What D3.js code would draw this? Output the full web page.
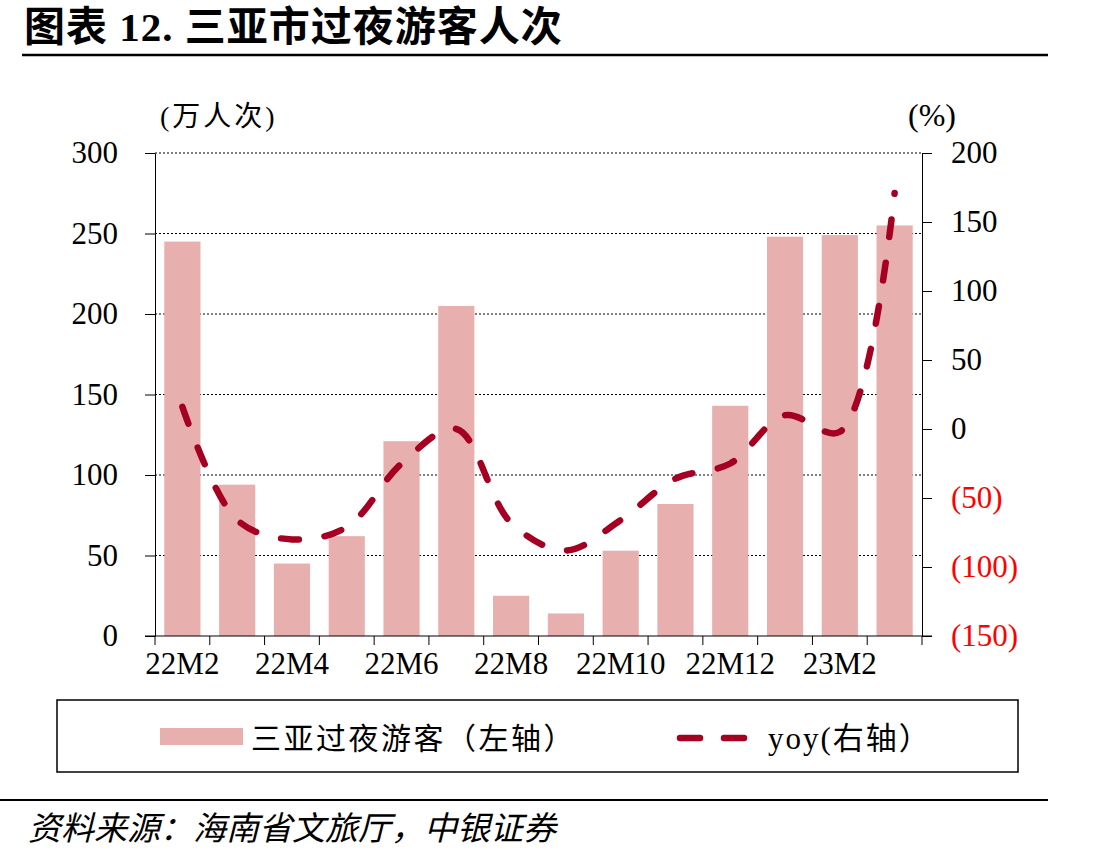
<!DOCTYPE html>
<html>
<head>
<meta charset="utf-8">
<script src="https://cdn.jsdelivr.net/npm/d3@7"></script>
<style>
  body { margin: 0; background: #fff; }
  svg text { font-family: "Liberation Serif", "Noto Sans CJK SC", serif; }
</style>
</head>
<body>
<div id="chart"></div>
<script>
// data
var months = ["22M2","22M3","22M4","22M5","22M6","22M7","22M8","22M9","22M10","22M11","22M12","23M1","23M2","23M3"];
var visitors = [245, 94, 45, 62, 121, 205, 25, 14, 53, 82, 143, 248, 249, 255];   // 万人次
var yoy = [16, -66, -80, -71, -25, 0, -68, -88, -66, -36, -25, 10, -2, 171];     // %
var leftTicks = [0, 50, 100, 150, 200, 250, 300];
var rightTicks = [-150, -100, -50, 0, 50, 100, 150, 200];
var xLabels = ["22M2","22M4","22M6","22M8","22M10","22M12","23M2"];

var W = 1101, H = 859;
var barColor = "#E8AFAF", lineColor = "#A50021";

var svg = d3.select("#chart").append("svg")
	.attr("width", W).attr("height", H);

// title
svg.append("text")
	.attr("x", 24).attr("y", 41)
	.attr("font-size", "41px")
	.attr("font-weight", "bold")
	.attr("letter-spacing", "1px")
	.text("图表 12. 三亚市过夜游客人次");
svg.append("line")
	.attr("x1", 22).attr("x2", 1048).attr("y1", 55).attr("y2", 55)
	.attr("stroke", "#000").attr("stroke-width", 2.5);

var pLeft = 155, pRight = 922, pTop = 153, pBottom = 636;

var x = d3.scaleBand().domain(months).range([pLeft, pRight]).paddingInner(0.34).paddingOuter(0.17);
var yL = d3.scaleLinear().domain([0, 300]).range([pBottom, pTop]);
var yR = d3.scaleLinear().domain([-150, 200]).range([pBottom, pTop]);

// gridlines
svg.append("g").selectAll("line")
	.data(leftTicks.filter(function(d) { return d > 0; }))
	.enter().append("line")
	.attr("x1", pLeft).attr("x2", pRight)
	.attr("y1", function(d) { return yL(d); }).attr("y2", function(d) { return yL(d); })
	.attr("stroke", "#000").attr("stroke-width", 1)
	.attr("stroke-dasharray", "2,2");

// bars
svg.append("g").selectAll("rect")
	.data(visitors)
	.enter().append("rect")
	.attr("x", function(d, i) { return x(months[i]); })
	.attr("y", function(d) { return yL(d); })
	.attr("width", x.bandwidth())
	.attr("height", function(d) { return yL(0) - yL(d); })
	.attr("fill", barColor);

// left axis
var gL = svg.append("g")
	.attr("transform", "translate(" + pLeft + ",0)")
	.call(d3.axisLeft(yL).tickValues(leftTicks).tickSize(10).tickPadding(27).tickSizeOuter(0));
gL.select(".domain").attr("stroke", "#000");
gL.selectAll("text").attr("font-size", "31px").attr("fill", "#000")
	.style("font-family", "Liberation Serif");

// right axis
var gR = svg.append("g")
	.attr("transform", "translate(" + pRight + ",0)")
	.call(d3.axisRight(yR).tickValues(rightTicks).tickSize(10).tickPadding(19).tickSizeOuter(0)
		.tickFormat(function(d) { return d < 0 ? "(" + Math.abs(d) + ")" : d; }));
gR.select(".domain").attr("stroke", "#000");
gR.selectAll("text").attr("font-size", "31px")
	.style("font-family", "Liberation Serif")
	.attr("fill", function(d) { return d < 0 ? "#FF0000" : "#000"; });

// x axis
var half = x.step() * x.paddingInner() / 2;
var gX = svg.append("g")
	.attr("transform", "translate(0," + pBottom + ")")
	.call(d3.axisBottom(x).tickValues(xLabels).tickSize(0).tickPadding(16));
gX.select(".domain").remove();
gX.selectAll("text").attr("font-size", "31px").attr("fill", "#000")
	.style("font-family", "Liberation Serif");
gX.append("line")
	.attr("x1", pLeft - 10).attr("x2", pRight + 10)
	.attr("stroke", "#000").attr("stroke-width", 1);
gX.selectAll(".bnd")
	.data(months.concat(["end"]))
	.enter().append("line")
	.attr("class", "bnd")
	.attr("x1", function(d) { return d === "end" ? pRight : x(d) - half; })
	.attr("x2", function(d) { return d === "end" ? pRight : x(d) - half; })
	.attr("y1", 0).attr("y2", 9)
	.attr("stroke", "#000");

// yoy line
var line = d3.line()
	.x(function(d, i) { return x(months[i]) + x.bandwidth() / 2; })
	.y(function(d) { return yR(d); })
	.curve(d3.curveCatmullRom.alpha(0.5));
var yoyPath = svg.append("path")
	.datum(yoy)
	.attr("d", line)
	.attr("fill", "none")
	.attr("stroke", lineColor)
	.attr("stroke-width", 6.5)
	.attr("stroke-linecap", "round");
// stretch the dash period a little so a short dash (a dot) falls on the last point
var len = yoyPath.node().getTotalLength();
var period = (len - 1.5) / Math.round(len / 44);
yoyPath.attr("stroke-dasharray", (period * 18 / 44) + "," + (period * 26 / 44));

// axis units
svg.append("text").attr("x", 160).attr("y", 126).attr("font-size", "28px")
	.attr("letter-spacing", "3px").text("(万人次)");
svg.append("text").attr("x", 908).attr("y", 126).attr("font-size", "32px").text("(%)");

// legend
svg.append("rect")
	.attr("x", 57).attr("y", 700).attr("width", 961).attr("height", 72)
	.attr("fill", "none").attr("stroke", "#000").attr("stroke-width", 1.5);
svg.append("rect")
	.attr("x", 160).attr("y", 728).attr("width", 83).attr("height", 17)
	.attr("fill", barColor);
svg.append("text").attr("x", 251).attr("y", 749).attr("font-size", "30px")
	.attr("letter-spacing", "2.5px").text("三亚过夜游客（左轴）");
svg.append("line")
	.attr("x1", 680).attr("x2", 752).attr("y1", 738).attr("y2", 738)
	.attr("stroke", lineColor).attr("stroke-width", 6.5)
	.attr("stroke-linecap", "round").attr("stroke-dasharray", "20,24");
svg.append("text").attr("x", 768).attr("y", 749).attr("font-size", "31px")
	.attr("letter-spacing", "2px").text("yoy(右轴）");

// source
svg.append("line")
	.attr("x1", 0).attr("x2", 1048).attr("y1", 800).attr("y2", 800)
	.attr("stroke", "#000").attr("stroke-width", 2);
svg.append("text").attr("x", 28).attr("y", 840).attr("font-size", "33px")
	.attr("font-style", "italic")
	.text("资料来源：海南省文旅厅，中银证券");
</script>
</body>
</html>
